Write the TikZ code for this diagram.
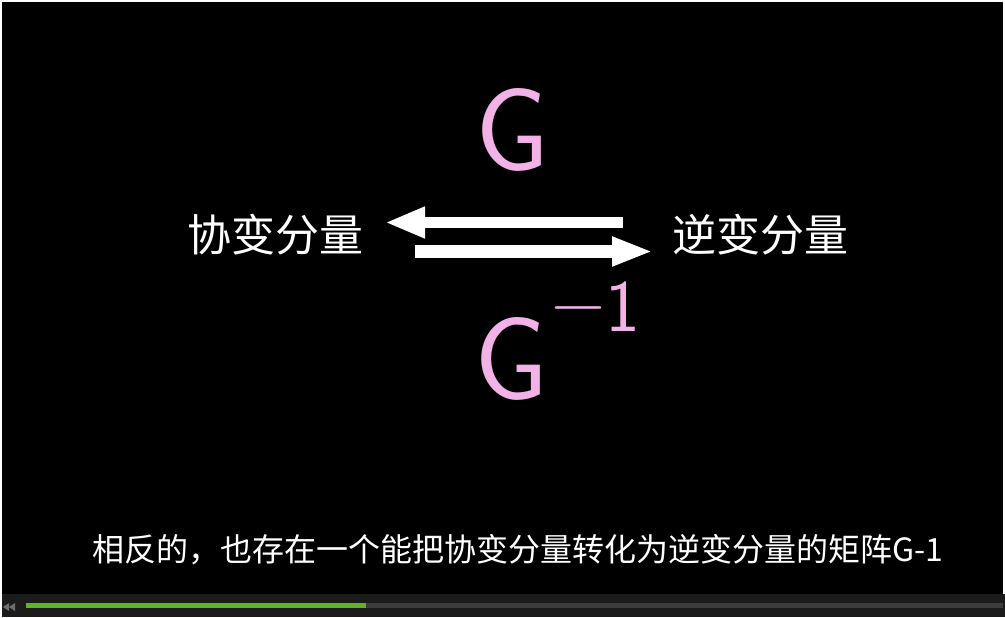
\documentclass[tikz,border=0pt]{standalone}
\usepackage{fontspec}
\usetikzlibrary{arrows.meta}
\newfontfamily\cjk{Noto Sans CJK SC}
\definecolor{gpink}{RGB}{242,178,232}
\definecolor{barbg}{RGB}{27,27,27}
\definecolor{track}{RGB}{60,60,60}
\definecolor{prog}{RGB}{96,178,40}
\definecolor{icon}{RGB}{110,110,110}
\tikzset{
  label/.style={inner sep=0pt, text=white, font=\cjk\fontsize{44}{44}\selectfont},
  caption/.style={inner sep=0pt, text=white, font=\cjk\fontsize{32}{32}\selectfont},
  gsym/.style={inner sep=0pt, text=gpink, anchor=base, font=\sffamily\fontsize{118}{118}\selectfont},
  gsup/.style={inner sep=0pt, text=gpink, anchor=base west, font=\sffamily\fontsize{74}{74}\selectfont},
  fatarrow/.style={draw=white, line cap=butt}
}
\begin{document}
\begin{tikzpicture}[x=1pt,y=-1pt]
\useasboundingbox (0,0) rectangle (1005,618);
\fill[white] (0,0) rectangle (1005,618);
\fill[black] (2,2) rectangle (1003,594);
\fill[barbg] (2,594) rectangle (1005,617);
\fill[track] (366,603) rectangle (1003,608);
\fill[prog] (26,603) rectangle (366,608);
\fill[icon] (9,603) -- (3,607) -- (9,611) -- cycle;
\fill[icon] (15,603) -- (9,607) -- (15,611) -- cycle;
% labels
\node[label] (cov) at (275,235) {协变分量};
\node[label] (contra) at (760,235) {逆变分量};
% arrows
\coordinate (a1s) at (623,222.5);
\coordinate (a1e) at (385,222.5);
\coordinate (a2s) at (415,251.5);
\coordinate (a2e) at (653,251.5);
\draw[fatarrow, line width=11pt, arrows={-{Triangle[length=40pt,width=29pt]}}] (a1s) -- (a1e);
\draw[fatarrow, line width=13pt, arrows={-{Triangle[length=41pt,width=27pt]}}] (a2s) -- (a2e);
% G labels
\node[gsym] (g) at (512,170) {G};
\node[gsym] (ginv) at (511,399) {G};
\node[gsup] (sup) at (551,331) {\raisebox{5pt}{\symbol{"2212}}1};
% caption
\node[caption] (cap) at (518,550) {相反的，也存在一个能把协变分量转化为逆变分量的矩阵G-1};
\end{tikzpicture}
\end{document}
